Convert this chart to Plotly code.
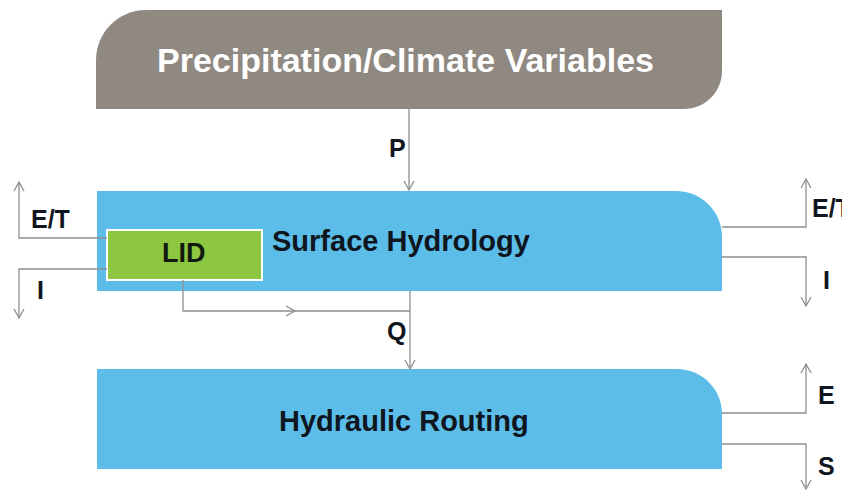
import plotly.graph_objects as go

# ---- content (text) ----
box_labels = ["Precipitation/Climate Variables", "Surface Hydrology", "Hydraulic Routing"]
lid_label = "LID"
flow_labels = ["P", "Q", "E/T", "I", "E/T", "I", "E", "S"]

# ---- styles ----
GRAY = "#8f8981"
BLUE = "#5cbde8"
GREEN = "#8dc641"
LINE = "#8e8e8e"
TXT = "#0f1620"
FONT = "Liberation Sans, Arial, Helvetica, sans-serif"

K = 0.5523


def rounded_box(x0, y0, x1, y1, r_tl=0, r_tr=0, r_br=0, r_bl=0):
    p = f"M {x0},{y0 + r_tl} "
    if r_tl:
        p += f"C {x0},{y0 + r_tl - K*r_tl} {x0 + r_tl - K*r_tl},{y0} {x0 + r_tl},{y0} "
    p += f"L {x1 - r_tr},{y0} "
    if r_tr:
        p += f"C {x1 - r_tr + K*r_tr},{y0} {x1},{y0 + r_tr - K*r_tr} {x1},{y0 + r_tr} "
    p += f"L {x1},{y1 - r_br} "
    if r_br:
        p += f"C {x1},{y1 - r_br + K*r_br} {x1 - r_br + K*r_br},{y1} {x1 - r_br},{y1} "
    p += f"L {x0 + r_bl},{y1} "
    if r_bl:
        p += f"C {x0 + r_bl - K*r_bl},{y1} {x0},{y1 - r_bl + K*r_bl} {x0},{y1 - r_bl} "
    p += "Z"
    return p


shapes = []


def box(path, fill):
    shapes.append(dict(type="path", path=path, fillcolor=fill, line=dict(width=0),
                       xref="x", yref="y", layer="below"))


def poly(pts):
    p = "M " + " L ".join(f"{x},{y}" for x, y in pts)
    shapes.append(dict(type="path", path=p, line=dict(color=LINE, width=1.3),
                       fillcolor="rgba(0,0,0,0)", xref="x", yref="y"))


def head(x, y, d, s=9, w=5):
    if d == "down":
        pts = [(x - w, y - s), (x, y), (x + w, y - s)]
    elif d == "up":
        pts = [(x - w, y + s), (x, y), (x + w, y + s)]
    else:  # right
        pts = [(x - s, y - w), (x, y), (x - s, y + w)]
    poly(pts)


# boxes
box(rounded_box(96, 10, 722, 109, r_tl=50, r_br=38), GRAY)
box(rounded_box(97, 191, 722, 291, r_tr=46), BLUE)
box(rounded_box(97, 369, 722, 469, r_tr=45), BLUE)
shapes.append(dict(type="rect", x0=107, y0=230, x1=262, y1=280, fillcolor=GREEN,
                   line=dict(color="white", width=2), xref="x", yref="y"))

# flows
poly([(409, 109), (409, 190)]); head(409, 190, "down")
poly([(410, 291), (410, 369)]); head(410, 369, "down")
poly([(183, 280), (183, 311), (410, 311)]); head(295, 311, "right")
poly([(107, 238), (19, 238), (19, 182)]); head(19, 182, "up")
poly([(107, 269), (19, 269), (19, 318)]); head(19, 318, "down")
poly([(722, 227), (806, 227), (806, 179)]); head(806, 179, "up")
poly([(722, 257), (806, 257), (806, 306)]); head(806, 306, "down")
poly([(722, 413), (806, 413), (806, 364)]); head(806, 364, "up")
poly([(722, 444), (806, 444), (806, 489)]); head(806, 489, "down")

ann = []


def text(x, y, t, size, color=TXT, bold=True, xanchor="center"):
    s = f"<b>{t}</b>" if bold else t
    ann.append(dict(x=x, y=y, text=s, showarrow=False, xref="x", yref="y",
                    xanchor=xanchor, yanchor="middle",
                    font=dict(size=size, color=color, family=FONT)))


text(405, 60, box_labels[0], 34, color="white")
text(401, 241, box_labels[1], 29)
text(404, 421, box_labels[2], 29)
text(184, 253, lid_label, 27, color="#111a10")

flow_pos = [(397, 148), (396, 331), (50, 219), (40, 290), (831, 208), (826, 280), (826, 395), (826, 466)]
for (x, y), t in zip(flow_pos, flow_labels):
    text(x, y, t, 25)

fig = go.Figure()
fig.update_layout(
    width=842, height=483, margin=dict(l=0, r=0, t=0, b=0),
    paper_bgcolor="white", plot_bgcolor="white",
    xaxis=dict(range=[8, 850], visible=False, fixedrange=True),
    yaxis=dict(range=[491, 8], visible=False, fixedrange=True),
    shapes=shapes, annotations=ann, showlegend=False,
)
fig.write_html("out.html")
